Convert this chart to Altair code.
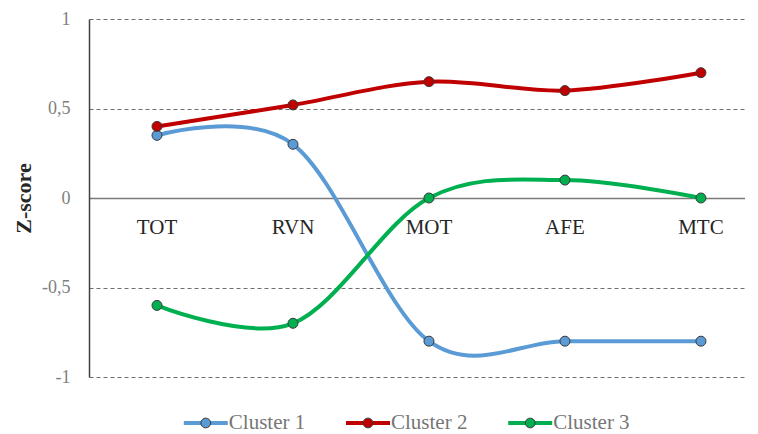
import altair as alt
import pandas as pd

categories = ["TOT", "RVN", "MOT", "AFE", "MTC"]
series_names = ["Cluster 1", "Cluster 2", "Cluster 3"]
cluster1 = [0.35, 0.30, -0.80, -0.80, -0.80]
cluster2 = [0.40, 0.52, 0.65, 0.60, 0.70]
cluster3 = [-0.60, -0.70, 0.00, 0.10, 0.00]
colors = ["#5B9BD5", "#C00000", "#00B050"]
y_ticks = [-1, -0.5, 0, 0.5, 1]

rows = []
for name, vals in zip(series_names, [cluster1, cluster2, cluster3]):
    for i, (c, v) in enumerate(zip(categories, vals)):
        rows.append({"idx": i, "cat": c, "series": name, "value": v})
df = pd.DataFrame(rows)
cat_df = pd.DataFrame({"idx": list(range(len(categories))), "cat": categories})
leg_df = pd.DataFrame({"series": series_names})

FONT = "Liberation Serif"
color_scale = alt.Scale(domain=series_names, range=colors)
x_enc = alt.X("idx:Q", scale=alt.Scale(domain=[-0.5, 4.324], nice=False, zero=False), axis=None)
y_enc = alt.Y(
    "value:Q",
    scale=alt.Scale(domain=[-1, 1], nice=False),
    axis=alt.Axis(
        values=y_ticks,
        title="Z-score",
        titleFont=FONT,
        titleFontSize=22,
        titleFontWeight="bold",
        titleColor="#262626",
        titlePadding=6,
        labelFont=FONT,
        labelFontSize=18,
        labelColor="#808080",
        labelPadding=19,
        labelExpr="replace(replace(format(datum.value, ''), '.', ','), '\u2212', '-')",
        ticks=False,
        domainColor="#404040",
        domainWidth=1.5,
        grid=True,
        gridColor=alt.condition("datum.value == 0", alt.value("#7a7a7a"), alt.value("#6e6e6e")),
        gridDash=alt.condition("datum.value == 0", alt.value([]), alt.value([4, 3])),
        gridWidth=alt.condition("datum.value == 0", alt.value(1.5), alt.value(1.2)),
    ),
)

base = alt.Chart(df)
lines = base.mark_line(interpolate="cardinal", strokeWidth=4).encode(
    x=x_enc,
    y=y_enc,
    color=alt.Color("series:N", scale=color_scale, legend=None),
    detail="series:N",
)
points = base.mark_circle(size=100, opacity=1, stroke="#3a3a3a", strokeWidth=1).encode(
    x="idx:Q",
    y="value:Q",
    color=alt.Color("series:N", scale=color_scale, legend=None),
)
labels = alt.Chart(cat_df).mark_text(
    font=FONT, fontSize=21, color="#262626", dy=30, baseline="middle"
).encode(x="idx:Q", y=alt.datum(0), text="cat:N")

main = alt.layer(lines, points, labels).properties(width=656, height=358)

lx = alt.X("series:N", scale=alt.Scale(type="point", padding=0.72), axis=None)
leg_base = alt.Chart(leg_df)
leg_line = leg_base.mark_point(shape="M-1,0L1,0", size=1936, strokeWidth=4, filled=False, opacity=1).encode(
    x=lx, color=alt.Color("series:N", scale=color_scale, legend=None)
)
leg_dot = leg_base.mark_circle(size=95, opacity=1, stroke="#3a3a3a", strokeWidth=1).encode(
    x=lx, color=alt.Color("series:N", scale=color_scale, legend=None)
)
leg_text = leg_base.mark_text(font=FONT, fontSize=21, color="#767676", align="left", dx=23, baseline="middle").encode(
    x=lx, text="series:N"
)
legend = alt.layer(leg_line, leg_dot, leg_text).properties(width=558, height=16)

chart = alt.vconcat(main, legend, spacing=26).properties(
    padding={"top": 2, "left": 4, "right": 0, "bottom": 0}
).configure_view(stroke=None)

chart.save("out.html", embed_options={"renderer": "svg", "actions": False})
